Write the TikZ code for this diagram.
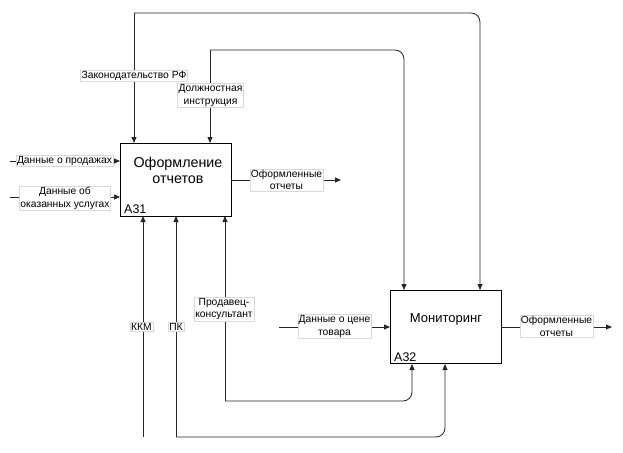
\documentclass[tikz,border=0pt]{standalone}
\usepackage{fontspec}
\setmainfont{Liberation Sans}
\usetikzlibrary{arrows.meta}
\begin{document}
\begin{tikzpicture}[x=1pt,y=-1pt,
  conn/.style={line width=0.8pt,draw=black!85},
  arr/.style={conn,-{Triangle[length=6pt,width=5pt]}},
  lbl/.style={fill=white,draw=black!15,line width=0.4pt,font=\fontsize{10.3}{12.6}\selectfont,inner sep=1pt,align=center},
  fbox/.style={draw,line width=0.8pt,fill=white,minimum width=111pt,minimum height=73pt,anchor=north west,inner sep=0pt},
  code/.style={font=\fontsize{12.5}{14}\selectfont,anchor=south west,inner sep=1pt}
]
\useasboundingbox (0,0) rectangle (623,452);
% boxes
\node[fbox] (A31) at (120,143) {};
\node[fbox] (A32) at (390,290) {};
\node[font=\fontsize{14.3}{16}\selectfont,align=center] (t31) at (178,170.5) {Оформление\\отчетов};
\node[font=\fontsize{13}{15}\selectfont] (t32) at (446,319) {Мониторинг};
\node[code] (c31) at (123,214.5) {A31};
\node[code] (c32) at (393,362.5) {A32};
% coordinates
\coordinate (j1) at (134,13);
\coordinate (j2) at (210,50);
\coordinate (a31t1) at (134,143);
\coordinate (a31t2) at (210,143);
\coordinate (a32t1) at (404,290);
\coordinate (a32t2) at (480,290);
\coordinate (a31b1) at (143,216);
\coordinate (a31b2) at (176,216);
\coordinate (a31b3) at (225,216);
\coordinate (a32b1) at (412,364);
\coordinate (a32b2) at (445,364);
\coordinate (kkm) at (143,437);
\coordinate (pk) at (176,437);
\coordinate (pr) at (225,401);
\coordinate (in1s) at (10,161);
\coordinate (in1e) at (120,161);
\coordinate (in2s) at (10,197);
\coordinate (in2e) at (120,197);
\coordinate (o1s) at (231,180);
\coordinate (o1e) at (341,180);
\coordinate (in3s) at (279,327);
\coordinate (in3e) at (390,327);
\coordinate (o2s) at (501,327);
\coordinate (o2e) at (612,327);
% controls
\draw[arr] (j1) -- (a31t1);
\draw[arr,rounded corners=9pt] (j1) -| (a32t2);
\draw[arr] (j2) -- (a31t2);
\draw[arr,rounded corners=9pt] (j2) -| (a32t1);
% mechanisms
\draw[arr] (kkm) -- (a31b1);
\draw[arr] (pk) -- (a31b2);
\draw[arr,rounded corners=9pt] (pk) -| (a32b2);
\draw[arr] (pr) -- (a31b3);
\draw[arr,rounded corners=9pt] (pr) -| (a32b1);
% inputs / outputs
\draw[arr] (in1s) -- (in1e);
\draw[arr] (in2s) -- (in2e);
\draw[arr] (o1s) -- (o1e);
\draw[arr] (in3s) -- (in3e);
\draw[arr] (o2s) -- (o2e);
% labels
\node[lbl] (l1) at (134,75.5) {Законодательство РФ};
\node[lbl] (l2) at (210.5,95.5) {Должностная\\инструкция};
\node[lbl] (l3) at (64.5,161) {Данные о продажах};
\node[lbl] (l4) at (65,198.5) {Данные об\\оказанных услугах};
\node[lbl] (l5) at (286.5,180) {Оформленные\\отчеты};
\node[lbl] (l6) at (141.5,327) {ККМ};
\node[lbl] (l7) at (176,327) {ПК};
\node[lbl] (l8) at (224,309) {Продавец-\\консультант};
\node[lbl] (l9) at (334.5,326.5) {Данные о цене\\товара};
\node[lbl] (l10) at (556.5,326.5) {Оформленные\\отчеты};
\end{tikzpicture}
\end{document}
